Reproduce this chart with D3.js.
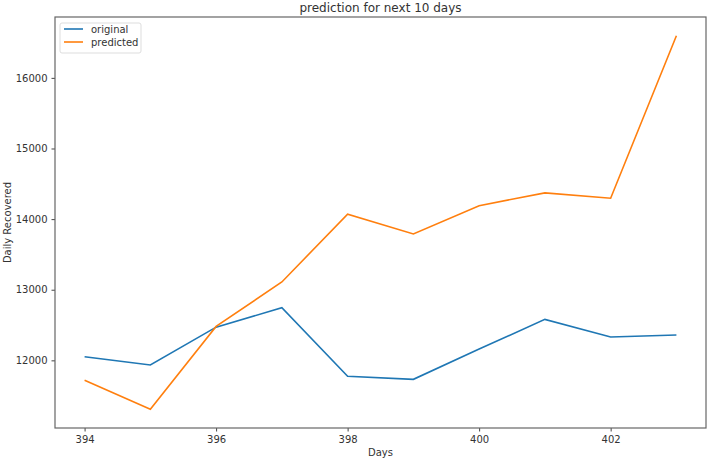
<!DOCTYPE html>
<head>
	<script src="https://d3js.org/d3.v7.min.js"></script>
	<style>
		body { margin: 0; background: #fff; }
		text { font-family: "DejaVu Sans", sans-serif; fill: #333; }
	</style>
</head>
<body>
	<script type="text/javascript">

		var w = 709;
		var h = 460;

		var days = [394, 395, 396, 397, 398, 399, 400, 401, 402, 403];
		var original = [12052, 11934, 12470, 12745, 11774, 11731, 12160, 12580, 12330, 12358];
		var predicted = [11717, 11307, 12481, 13110, 14070, 13790, 14190, 14372, 14296, 16597];
		var xTicks = [394, 396, 398, 400, 402];
		var yTicks = [12000, 13000, 14000, 15000, 16000];

		// plot area (note: "top" is a reserved window property)
		var padL = 55, padR = 706, padT = 17, padB = 428;

		var svg = d3.select("body")
				.append("svg")
				.attr("width", w)
				.attr("height", h);

		var xScale = d3.scaleLinear()
					.domain([393.55, 403.45])
					.range([padL, padR]);

		var yScale = d3.scaleLinear()
					.domain([11042, 16862])
					.range([padB, padT]);

		svg.append("g")
			.attr("transform", "translate(0," + padB + ")")
			.call(d3.axisBottom(xScale).tickValues(xTicks).tickSize(3.5).tickPadding(4).tickFormat(d3.format("d")));

		svg.append("g")
			.attr("transform", "translate(" + padL + ",0)")
			.call(d3.axisLeft(yScale).tickValues(yTicks).tickSize(3.5).tickPadding(4).tickFormat(d3.format("d")));

		svg.selectAll(".domain").remove();
		svg.selectAll(".tick line").attr("stroke", "#444");
		svg.selectAll(".tick text").attr("font-size", 10).attr("fill", "#333")
			.attr("font-family", "DejaVu Sans, sans-serif");

		// frame
		svg.append("rect")
			.attr("x", padL)
			.attr("y", padT)
			.attr("width", padR - padL)
			.attr("height", padB - padT)
			.attr("fill", "none")
			.attr("stroke", "#666")
			.attr("stroke-width", 1.2);

		var line = d3.line()
			.x(function(d, i){ return xScale(days[i]); })
			.y(function(d){ return yScale(d); });

		svg.append("path")
			.datum(original)
			.attr("d", line)
			.attr("fill", "none")
			.attr("stroke", "#1f77b4")
			.attr("stroke-width", 1.6);

		svg.append("path")
			.datum(predicted)
			.attr("d", line)
			.attr("fill", "none")
			.attr("stroke", "#ff7f0e")
			.attr("stroke-width", 1.6);

		// title and labels
		svg.append("text")
			.attr("x", (padL + padR) / 2)
			.attr("y", 12)
			.attr("text-anchor", "middle")
			.attr("font-size", 12)
			.text("prediction for next 10 days");

		svg.append("text")
			.attr("x", (padL + padR) / 2)
			.attr("y", 456)
			.attr("text-anchor", "middle")
			.attr("font-size", 10)
			.text("Days");

		svg.append("text")
			.attr("transform", "translate(11," + ((padT + padB) / 2) + ") rotate(-90)")
			.attr("text-anchor", "middle")
			.attr("font-size", 10)
			.text("Daily Recovered");

		// legend
		var legend = svg.append("g").attr("transform", "translate(60,23)");
		legend.append("rect")
			.attr("width", 81)
			.attr("height", 30)
			.attr("rx", 2)
			.attr("fill", "#fff")
			.attr("stroke", "#ddd");

		var names = ["original", "predicted"];
		var colors = ["#1f77b4", "#ff7f0e"];
		names.forEach(function(n, i){
			legend.append("line")
				.attr("x1", 4).attr("x2", 23)
				.attr("y1", 6 + i * 13).attr("y2", 6 + i * 13)
				.attr("stroke", colors[i])
				.attr("stroke-width", 1.6);
			legend.append("text")
				.attr("x", 31)
				.attr("y", 10 + i * 13)
				.attr("font-size", 10)
				.text(n);
		});

	</script>
</body>
